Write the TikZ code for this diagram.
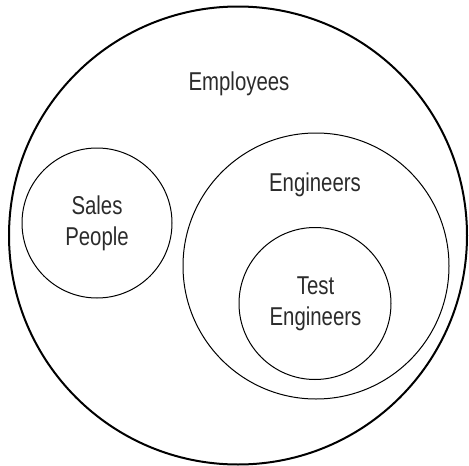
\documentclass[tikz,border=0pt]{standalone}
\usepackage{fontspec}
\setmainfont[FakeStretch=0.79]{Liberation Sans}
\definecolor{txt}{HTML}{2B2B2B}
\begin{document}
\begin{tikzpicture}[x=1pt,y=-1pt,
  setcircle/.style={draw=black, circle, inner sep=0pt, line width=1pt},
  lbl/.style={text=txt, align=center, inner sep=0pt, font=\fontsize{25.8}{31.2}\selectfont}]
\useasboundingbox (0,0) rectangle (469,466);
\node[setcircle, line width=2pt, minimum size=458pt] (emp) at (238,235.5) {};
\node[setcircle, minimum size=150pt] (sales) at (97,223) {};
\node[setcircle, minimum size=266pt] (eng) at (316,266) {};
\node[setcircle, minimum size=152pt] (test) at (315,303.5) {};
\node[lbl, anchor=base] (empl) at (239,90.7) {Employees};
\node[lbl, anchor=base] (salesl) at (97,245.7) {Sales\\People};
\node[lbl, anchor=base] (engl) at (315,191) {Engineers};
\node[lbl, anchor=base] (testl) at (315.5,325.3) {Test\\Engineers};
\end{tikzpicture}
\end{document}
